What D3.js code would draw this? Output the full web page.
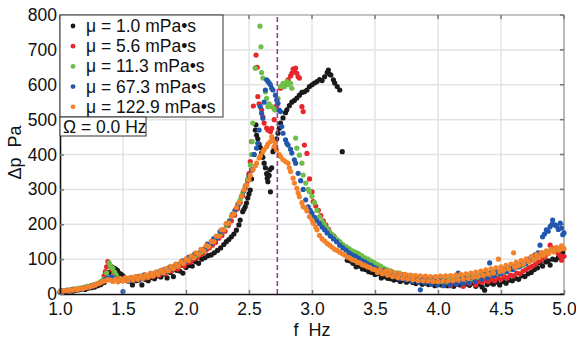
<!DOCTYPE html>
<html>
<head>
<meta charset="utf-8">
<script src="https://cdn.jsdelivr.net/npm/d3@7"></script>
<style>
  body { margin: 0; background: #fff; }
  svg { font-family: "Liberation Sans", Arial, sans-serif; }
</style>
</head>
<body>
<div id="chart"></div>
<script>
// measured pressure amplitude vs forcing frequency, one array per viscosity
const mu1 = [[1.000,5],[1.025,7],[1.050,6],[1.075,9],[1.100,8],[1.125,11],[1.150,12],[1.175,14],[1.200,13],[1.225,17],[1.250,18],[1.275,20],[1.300,24],[1.325,27],[1.350,33],[1.370,45],[1.390,62],[1.410,78],[1.425,74],[1.440,72],[1.455,68],[1.470,60],[1.485,56],[1.500,52],[1.525,40],[1.550,36],[1.575,26],[1.600,38],[1.625,40],[1.650,26],[1.675,42],[1.700,38],[1.725,47],[1.750,44],[1.775,52],[1.800,49],[1.825,57],[1.850,46],[1.875,62],[1.900,50],[1.925,68],[1.950,66],[1.975,60],[2.000,76],[2.025,82],[2.050,80],[2.075,93],[2.100,88],[2.125,100],[2.150,104],[2.175,110],[2.200,112],[2.225,118],[2.250,125],[2.275,132],[2.300,142],[2.320,150],[2.340,156],[2.360,164],[2.380,172],[2.400,183],[2.42,198],[2.43,212],[2.45,236],[2.46,243],[2.47,250],[2.48,261],[2.49,275],[2.50,287],[2.51,298],[2.52,330],[2.53,356],[2.54,400],[2.55,470],[2.555,485],[2.56,455],[2.57,445],[2.58,430],[2.59,420],[2.60,405],[2.61,392],[2.62,375],[2.63,362],[2.64,345],[2.645,332],[2.65,322],[2.66,340],[2.665,356],[2.67,293],[2.68,362],[2.69,408],[2.70,418],[2.72,445],[2.73,461],[2.74,475],[2.75,490],[2.77,505],[2.79,520],[2.80,528],[2.82,540],[2.84,550],[2.86,555],[2.88,562],[2.90,570],[2.92,578],[2.94,580],[2.96,585],[2.98,595],[3.00,600],[3.02,605],[3.04,609],[3.06,615],[3.08,612],[3.10,623],[3.12,635],[3.13,642],[3.14,630],[3.15,628],[3.17,614],[3.18,605],[3.20,595],[3.22,585],[3.24,408],[3.28,97],[3.30,95],[3.325,88],[3.35,78],[3.375,80],[3.40,72],[3.425,70],[3.45,64],[3.475,62],[3.50,56],[3.525,58],[3.55,46],[3.575,50],[3.60,45],[3.625,44],[3.65,40],[3.675,42],[3.70,36],[3.725,40],[3.75,34],[3.775,38],[3.80,33],[3.825,30],[3.85,34],[3.875,28],[3.90,31],[3.925,27],[3.95,30],[3.975,24],[4.00,29],[4.025,26],[4.05,30],[4.075,24],[4.10,28],[4.125,22],[4.15,30],[4.175,26],[4.20,24],[4.225,29],[4.25,25],[4.275,31],[4.30,22],[4.325,28],[4.35,20],[4.37,11],[4.39,27],[4.415,32],[4.44,28],[4.465,34],[4.49,26],[4.515,36],[4.54,31],[4.565,40],[4.59,38],[4.615,45],[4.64,42],[4.665,52],[4.69,50],[4.715,58],[4.74,62],[4.765,70],[4.79,75],[4.81,89],[4.83,80],[4.855,92],[4.875,95],[4.89,83],[4.91,100],[4.935,98],[4.955,105],[4.975,110],[4.99,120]];

const mu5 = [[1.010,8],[1.035,7],[1.060,10],[1.085,11],[1.110,13],[1.135,12],[1.160,16],[1.185,17],[1.210,19],[1.235,21],[1.260,23],[1.285,27],[1.310,30],[1.335,36],[1.350,52],[1.360,64],[1.370,78],[1.380,93],[1.390,86],[1.400,80],[1.410,70],[1.425,60],[1.440,52],[1.460,44],[1.485,40],[1.510,42],[1.535,38],[1.560,44],[1.585,40],[1.610,46],[1.635,44],[1.660,48],[1.685,46],[1.710,52],[1.735,50],[1.760,56],[1.785,54],[1.810,62],[1.835,58],[1.860,68],[1.885,66],[1.910,74],[1.935,72],[1.960,82],[1.985,80],[2.010,90],[2.035,92],[2.060,100],[2.085,104],[2.110,112],[2.135,116],[2.160,126],[2.185,132],[2.210,140],[2.235,148],[2.260,160],[2.285,168],[2.310,180],[2.335,196],[2.360,210],[2.385,226],[2.41,245],[2.43,262],[2.45,282],[2.47,305],[2.49,325],[2.50,345],[2.51,380],[2.52,437],[2.535,539],[2.55,648],[2.556,685],[2.565,650],[2.57,566],[2.58,545],[2.60,528],[2.61,508],[2.62,490],[2.64,476],[2.65,470],[2.67,466],[2.68,475],[2.70,500],[2.71,528],[2.72,540],[2.75,590],[2.77,595],[2.79,600],[2.81,614],[2.83,625],[2.84,633],[2.85,645],[2.86,640],[2.87,648],[2.88,633],[2.89,623],[2.90,619],[2.92,537],[2.93,523],[2.94,427],[2.96,403],[2.98,330],[3.00,293],[3.01,265],[3.03,252],[3.05,240],[3.07,225],[3.09,210],[3.11,198],[3.13,186],[3.15,172],[3.175,165],[3.20,152],[3.225,146],[3.25,135],[3.275,128],[3.30,120],[3.325,116],[3.35,108],[3.375,104],[3.40,97],[3.425,94],[3.45,88],[3.475,86],[3.50,80],[3.525,76],[3.55,72],[3.575,68],[3.60,64],[3.625,66],[3.65,58],[3.675,60],[3.70,52],[3.725,55],[3.75,48],[3.775,52],[3.80,44],[3.825,48],[3.85,40],[3.875,46],[3.90,38],[3.925,42],[3.95,34],[3.975,40],[4.00,32],[4.025,38],[4.05,30],[4.075,36],[4.10,24],[4.125,34],[4.15,30],[4.175,36],[4.20,22],[4.225,34],[4.25,30],[4.275,38],[4.30,26],[4.325,36],[4.35,34],[4.375,40],[4.40,36],[4.425,42],[4.45,38],[4.475,46],[4.50,42],[4.525,50],[4.55,46],[4.575,54],[4.60,52],[4.625,60],[4.65,58],[4.675,66],[4.70,70],[4.725,76],[4.75,80],[4.775,86],[4.80,94],[4.825,100],[4.85,108],[4.87,118],[4.89,140],[4.91,130],[4.93,122],[4.95,118],[4.97,110],[4.98,97],[5.00,108]];

const mu11 = [[1.020,9],[1.045,10],[1.070,11],[1.095,13],[1.120,14],[1.145,16],[1.170,17],[1.195,20],[1.220,22],[1.245,24],[1.270,27],[1.295,30],[1.320,35],[1.345,42],[1.370,60],[1.390,89],[1.400,80],[1.410,76],[1.420,73],[1.435,62],[1.445,55],[1.470,45],[1.495,42],[1.520,40],[1.545,44],[1.570,42],[1.595,45],[1.620,47],[1.645,48],[1.670,52],[1.695,50],[1.720,56],[1.745,58],[1.770,60],[1.795,64],[1.820,66],[1.845,70],[1.870,72],[1.895,78],[1.920,80],[1.945,86],[1.970,90],[1.995,95],[2.020,98],[2.045,104],[2.070,108],[2.095,116],[2.120,120],[2.145,128],[2.170,136],[2.195,142],[2.220,152],[2.245,162],[2.270,170],[2.295,184],[2.320,196],[2.345,210],[2.370,228],[2.390,240],[2.41,258],[2.43,270],[2.45,290],[2.47,310],[2.49,330],[2.51,370],[2.52,400],[2.525,437],[2.53,490],[2.55,648],[2.587,768],[2.595,709],[2.60,635],[2.61,619],[2.63,580],[2.64,561],[2.65,537],[2.66,545],[2.68,537],[2.70,530],[2.71,528],[2.73,560],[2.75,595],[2.77,604],[2.78,594],[2.80,609],[2.81,600],[2.83,604],[2.84,590],[2.87,447],[2.88,418],[2.90,398],[2.92,375],[2.93,341],[2.95,318],[2.97,300],[2.98,293],[3.00,280],[3.02,262],[3.04,240],[3.06,222],[3.08,208],[3.10,198],[3.12,188],[3.14,179],[3.16,170],[3.18,162],[3.20,156],[3.22,150],[3.245,142],[3.27,136],[3.295,130],[3.32,124],[3.345,120],[3.37,116],[3.395,110],[3.42,104],[3.445,100],[3.47,94],[3.495,90],[3.52,84],[3.545,80],[3.57,74],[3.595,70],[3.62,66],[3.645,62],[3.67,58],[3.695,60],[3.72,52],[3.745,55],[3.77,48],[3.795,52],[3.82,46],[3.845,50],[3.87,42],[3.895,48],[3.92,40],[3.945,46],[3.97,38],[3.995,44],[4.02,36],[4.045,42],[4.07,34],[4.095,44],[4.12,38],[4.145,46],[4.17,40],[4.195,48],[4.22,42],[4.245,50],[4.27,44],[4.295,52],[4.32,48],[4.345,56],[4.37,52],[4.395,60],[4.42,56],[4.445,64],[4.47,58],[4.495,66],[4.52,64],[4.545,72],[4.57,70],[4.595,78],[4.62,76],[4.645,84],[4.67,82],[4.695,90],[4.72,92],[4.745,98],[4.77,102],[4.795,108],[4.82,112],[4.845,118],[4.87,120],[4.895,126],[4.92,124],[4.945,130],[4.97,128],[4.99,134]];

const mu67 = [[1.005,9],[1.030,8],[1.055,11],[1.080,10],[1.105,13],[1.130,12],[1.155,15],[1.180,16],[1.205,19],[1.230,20],[1.255,24],[1.280,26],[1.305,30],[1.330,34],[1.355,40],[1.380,46],[1.405,48],[1.430,46],[1.455,42],[1.480,40],[1.500,7],[1.520,42],[1.545,36],[1.570,46],[1.595,40],[1.620,50],[1.645,44],[1.670,55],[1.695,48],[1.720,59],[1.745,53],[1.770,63],[1.795,59],[1.820,69],[1.845,65],[1.870,77],[1.895,73],[1.920,85],[1.945,83],[1.970,95],[1.995,93],[2.020,105],[2.045,103],[2.070,115],[2.095,115],[2.120,127],[2.145,129],[2.170,143],[2.195,143],[2.220,159],[2.245,161],[2.270,179],[2.295,183],[2.320,201],[2.345,209],[2.370,229],[2.39,240],[2.415,255],[2.44,280],[2.46,296],[2.48,313],[2.50,340],[2.52,356],[2.54,400],[2.56,418],[2.57,432],[2.58,470],[2.59,537],[2.60,518],[2.61,504],[2.62,550],[2.63,585],[2.64,614],[2.65,610],[2.66,605],[2.67,600],[2.68,590],[2.69,585],[2.71,570],[2.72,556],[2.73,547],[2.74,527],[2.75,523],[2.76,480],[2.77,461],[2.79,442],[2.80,432],[2.81,427],[2.83,415],[2.84,404],[2.86,385],[2.87,375],[2.89,346],[2.91,325],[2.93,300],[2.95,270],[2.97,250],[2.985,240],[3.00,231],[3.02,220],[3.04,210],[3.06,202],[3.08,192],[3.10,184],[3.12,175],[3.145,166],[3.17,158],[3.195,150],[3.22,140],[3.245,132],[3.27,126],[3.295,118],[3.32,112],[3.345,108],[3.37,102],[3.395,96],[3.42,92],[3.445,86],[3.47,82],[3.495,76],[3.52,72],[3.545,64],[3.57,68],[3.595,56],[3.62,62],[3.645,50],[3.67,56],[3.695,44],[3.72,54],[3.745,40],[3.77,50],[3.795,36],[3.82,48],[3.845,34],[3.86,12],[3.87,46],[3.895,32],[3.92,44],[3.945,28],[3.97,42],[3.995,26],[4.02,40],[4.045,24],[4.07,38],[4.095,26],[4.12,40],[4.145,28],[4.16,60],[4.17,42],[4.195,30],[4.22,44],[4.245,32],[4.27,48],[4.295,36],[4.32,52],[4.345,42],[4.37,58],[4.395,46],[4.41,89],[4.42,60],[4.445,52],[4.47,64],[4.495,58],[4.52,70],[4.545,64],[4.57,76],[4.595,70],[4.62,82],[4.645,78],[4.67,90],[4.695,86],[4.72,100],[4.745,98],[4.77,112],[4.795,118],[4.81,140],[4.83,164],[4.845,172],[4.86,184],[4.875,180],[4.89,193],[4.905,200],[4.91,212],[4.93,198],[4.94,195],[4.955,185],[4.97,203],[4.98,189],[4.99,170],[5.00,175]];

const mu122 = [[1.00,7],[1.02,8],[1.04,10],[1.06,9],[1.08,12],[1.10,11],[1.12,14],[1.14,13],[1.16,16],[1.18,15],[1.20,18],[1.22,20],[1.24,21],[1.26,24],[1.28,26],[1.30,30],[1.32,32],[1.34,36],[1.36,38],[1.38,41],[1.40,40],[1.42,36],[1.44,43],[1.46,35],[1.48,44],[1.50,37],[1.52,47],[1.54,38],[1.56,48],[1.58,40],[1.60,50],[1.62,42],[1.64,52],[1.66,45],[1.68,55],[1.70,48],[1.72,59],[1.74,52],[1.76,63],[1.78,56],[1.80,68],[1.82,61],[1.84,73],[1.86,66],[1.88,79],[1.90,73],[1.92,86],[1.94,80],[1.96,93],[1.98,88],[2.00,101],[2.02,96],[2.04,109],[2.06,104],[2.08,118],[2.10,114],[2.12,128],[2.14,124],[2.16,139],[2.18,136],[2.20,151],[2.22,150],[2.24,166],[2.26,166],[2.28,184],[2.30,184],[2.32,202],[2.34,204],[2.36,224],[2.38,230],[2.40,248],[2.42,262],[2.44,280],[2.46,298],[2.48,312],[2.50,327],[2.51,340],[2.53,356],[2.55,368],[2.56,375],[2.58,390],[2.59,396],[2.61,408],[2.62,414],[2.64,422],[2.65,430],[2.67,437],[2.68,451],[2.69,441],[2.70,423],[2.71,433],[2.72,413],[2.74,400],[2.75,394],[2.77,385],[2.79,380],[2.81,375],[2.82,362],[2.83,351],[2.85,332],[2.86,318],[2.88,303],[2.89,290],[2.90,279],[2.92,262],[2.93,250],[2.95,246],[2.96,238],[2.98,222],[3.00,212],[3.01,203],[3.03,192],[3.04,184],[3.06,168],[3.08,158],[3.10,152],[3.12,145],[3.14,140],[3.16,134],[3.18,128],[3.20,125],[3.22,120],[3.24,115],[3.26,112],[3.28,106],[3.30,103],[3.32,98],[3.34,96],[3.36,91],[3.38,89],[3.40,84],[3.42,82],[3.44,78],[3.46,76],[3.48,71],[3.50,70],[3.52,62],[3.54,70],[3.56,58],[3.58,66],[3.60,54],[3.62,64],[3.64,50],[3.66,60],[3.68,47],[3.70,58],[3.72,45],[3.74,56],[3.76,43],[3.78,54],[3.80,41],[3.82,53],[3.84,39],[3.86,52],[3.88,38],[3.90,51],[3.92,37],[3.94,50],[3.96,36],[3.98,50],[4.00,36],[4.02,51],[4.04,37],[4.06,52],[4.08,38],[4.10,53],[4.12,39],[4.14,54],[4.16,41],[4.18,56],[4.20,43],[4.22,58],[4.24,45],[4.26,60],[4.28,48],[4.30,63],[4.32,51],[4.34,66],[4.36,54],[4.38,69],[4.40,57],[4.42,72],[4.44,60],[4.46,75],[4.48,100],[4.49,64],[4.50,78],[4.52,68],[4.54,82],[4.56,72],[4.58,86],[4.60,118],[4.61,77],[4.62,91],[4.64,82],[4.66,96],[4.68,87],[4.70,101],[4.72,93],[4.74,107],[4.76,99],[4.78,113],[4.80,105],[4.82,119],[4.84,111],[4.86,124],[4.88,116],[4.90,129],[4.92,121],[4.94,134],[4.96,126],[4.98,138],[5.00,130]];

const seriesData = [mu1, mu5, mu11, mu67, mu122];
const seriesLabels = ["μ = 1.0 mPa•s", "μ = 5.6 mPa•s", "μ = 11.3 mPa•s", "μ = 67.3 mPa•s", "μ = 122.9 mPa•s"];
const seriesColors = ["#1a1a1a", "#e8262b", "#6dbf47", "#2157ae", "#f4822b"];
const xTicks = [1.0, 1.5, 2.0, 2.5, 3.0, 3.5, 4.0, 4.5, 5.0];
const yTicks = [0, 100, 200, 300, 400, 500, 600, 700, 800];
const resonance = 2.725;

const width = 576, height = 341;
const margin = { top: 15, right: 12, bottom: 47, left: 60 };

const svg = d3.select("#chart").append("svg")
  .attr("width", width)
  .attr("height", height);

const x = d3.scaleLinear().domain([1, 5]).range([margin.left, width - margin.right]);
const y = d3.scaleLinear().domain([0, 800]).range([height - margin.bottom, margin.top]);

// grid
svg.append("g").selectAll("line")
  .data(xTicks.slice(1, -1))
  .enter().append("line")
  .attr("x1", d => x(d)).attr("x2", d => x(d))
  .attr("y1", y(0)).attr("y2", y(800))
  .attr("stroke", "#e3e3e3").attr("stroke-width", 1.5);

svg.append("g").selectAll("line")
  .data(yTicks.slice(1, -1))
  .enter().append("line")
  .attr("x1", x(1)).attr("x2", x(5))
  .attr("y1", d => y(d)).attr("y2", d => y(d))
  .attr("stroke", "#e3e3e3").attr("stroke-width", 1.5);

// frame top/right
svg.append("line").attr("x1", x(1)).attr("x2", x(5)).attr("y1", y(800)).attr("y2", y(800))
  .attr("stroke", "#8a8a8a").attr("stroke-width", 1.2);
svg.append("line").attr("x1", x(5)).attr("x2", x(5)).attr("y1", y(0)).attr("y2", y(800))
  .attr("stroke", "#8a8a8a").attr("stroke-width", 1.2);

// mirrored ticks
svg.append("g").selectAll("line")
  .data(xTicks).enter().append("line")
  .attr("x1", d => x(d)).attr("x2", d => x(d))
  .attr("y1", y(800)).attr("y2", y(800) + 4)
  .attr("stroke", "#777").attr("stroke-width", 1.5);
svg.append("g").selectAll("line")
  .data(yTicks).enter().append("line")
  .attr("x1", x(5)).attr("x2", x(5) - 4)
  .attr("y1", d => y(d)).attr("y2", d => y(d))
  .attr("stroke", "#777").attr("stroke-width", 1.5);

// points
seriesData.forEach((data, i) => {
  svg.append("g").selectAll("circle")
    .data(data)
    .enter().append("circle")
    .attr("cx", d => x(d[0]))
    .attr("cy", d => y(d[1]))
    .attr("r", 2.6)
    .attr("fill", seriesColors[i]);
});

// resonance line
svg.append("line")
  .attr("x1", x(resonance)).attr("x2", x(resonance))
  .attr("y1", y(0)).attr("y2", y(800))
  .attr("stroke", "#93409b").attr("stroke-width", 1.6)
  .attr("stroke-dasharray", "5,3");

// axes
const xAxis = svg.append("g")
  .attr("transform", "translate(0," + y(0) + ")")
  .call(d3.axisBottom(x).tickValues(xTicks).tickFormat(d3.format(".1f"))
    .tickSizeInner(-4).tickSizeOuter(0).tickPadding(9));
const yAxis = svg.append("g")
  .attr("transform", "translate(" + x(1) + ",0)")
  .call(d3.axisLeft(y).tickValues(yTicks).tickFormat(d3.format("d"))
    .tickSizeInner(-4).tickSizeOuter(0).tickPadding(3));

[xAxis, yAxis].forEach(ax => {
  ax.select(".domain").attr("stroke", "#111").attr("stroke-width", 1.6);
  ax.selectAll(".tick line").attr("stroke", "#777").attr("stroke-width", 1.5);
  ax.selectAll(".tick text").attr("font-size", 17.5).attr("fill", "#111")
    .attr("font-family", "Liberation Sans, Arial, sans-serif");
});

svg.append("text")
  .attr("x", (x(1) + x(5)) / 2)
  .attr("y", 336)
  .attr("text-anchor", "middle")
  .attr("font-size", 18).attr("fill", "#111")
  .attr("xml:space", "preserve")
  .text("f  Hz");

svg.append("text")
  .attr("transform", "translate(21," + ((y(0) + y(800)) / 2 - 2) + ") rotate(-90)")
  .attr("text-anchor", "middle")
  .attr("font-size", 18).attr("fill", "#111")
  .attr("xml:space", "preserve")
  .text("Δp  Pa");

// legend
const legend = svg.append("g");
legend.append("rect")
  .attr("x", x(1)).attr("y", y(800))
  .attr("width", 163).attr("height", 102)
  .attr("fill", "#fff").attr("stroke", "#333").attr("stroke-width", 1);

seriesLabels.forEach((label, i) => {
  const ly = y(800) + 11 + i * 20.2;
  legend.append("circle")
    .attr("cx", x(1) + 13).attr("cy", ly)
    .attr("r", 2.4).attr("fill", seriesColors[i]);
  legend.append("text")
    .attr("x", x(1) + 26).attr("y", ly + 6)
    .attr("font-size", 17.5).attr("fill", "#111")
    .text(label);
});

// rotation annotation
svg.append("rect")
  .attr("x", x(1)).attr("y", y(800) + 102)
  .attr("width", 86).attr("height", 19)
  .attr("fill", "#fff").attr("stroke", "#333").attr("stroke-width", 1);
svg.append("text")
  .attr("x", x(1) + 3).attr("y", y(800) + 118)
  .attr("font-size", 17.5).attr("fill", "#111")
  .text("Ω = 0.0 Hz");
</script>
</body>
</html>
